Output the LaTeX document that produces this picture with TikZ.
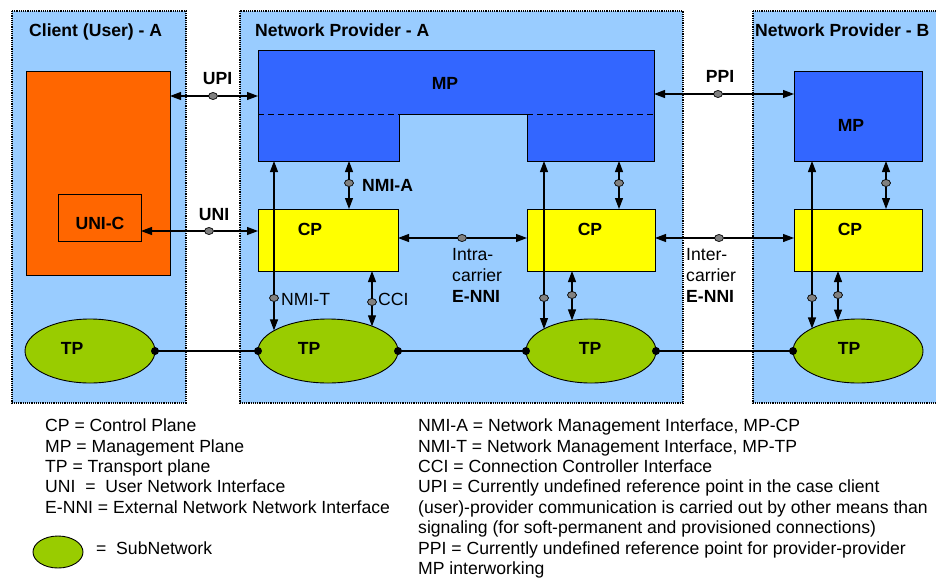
\documentclass[tikz,border=0pt]{standalone}
\usepackage{fontspec}
\setmainfont{Liberation Sans}
\usetikzlibrary{arrows.meta,shapes.geometric}

\definecolor{areablue}{HTML}{99CCFF}
\definecolor{mpblue}{HTML}{3366FF}
\definecolor{clientorange}{HTML}{FF6600}
\definecolor{cpyellow}{HTML}{FFFF00}
\definecolor{tpgreen}{HTML}{99CC00}
\definecolor{dotgray}{HTML}{808080}

\newcommand{\txtsize}{\fontsize{17.6pt}{20.5pt}\selectfont}

\tikzset{
  area/.style={fill=areablue,draw=black,densely dotted,line width=1.2pt},
  box/.style={draw=black,line width=0.9pt,anchor=north west,inner sep=0pt,outer sep=0pt},
  mppart/.style={fill=mpblue,anchor=north west,inner sep=0pt,outer sep=0pt},
  tpshape/.style={ellipse,fill=tpgreen,draw=black,line width=0.9pt,inner sep=0pt,outer sep=0pt},
  ifdot/.style={ellipse,fill=dotgray,draw=black,line width=0.7pt,minimum width=9pt,minimum height=7pt,inner sep=0pt,outer sep=0pt},
  halflink/.style={line width=1.1pt,-{Triangle[length=11pt,width=8pt]}},
  boldlab/.style={font=\txtsize\bfseries,anchor=base,inner sep=0pt},
  title/.style={font=\txtsize\bfseries,anchor=base west,inner sep=0pt},
  plainlab/.style={font=\txtsize,anchor=base west,inner sep=0pt},
  boldwest/.style={font=\txtsize\bfseries,anchor=base west,inner sep=0pt},
}

\begin{document}
\begin{tikzpicture}[x=1pt,y=-1pt]
\useasboundingbox (0,0) rectangle (936,579);

% domains
\draw[area] (12,11) rectangle (186,403);
\draw[area] (240,11) rectangle (683,403);
\draw[area] (753,11) rectangle (940,403);
\node[title] (tClient) at (29,36) {Client (User) - A};
\node[title] (tProvA) at (255,36) {Network Provider - A};
\node[title] (tProvB) at (755,36) {Network Provider - B};

% client
\node[box,fill=clientorange,minimum width=144pt,minimum height=204pt] (client) at (26,71) {};
\node[box,fill=clientorange,minimum width=83pt,minimum height=47pt] (unic) at (58,194) {};
\node[boldlab] (unicTxt) at (100,229.3) {UNI-C};

% management planes
\node[mppart,minimum width=396pt,minimum height=64pt] (mpA) at (258,50) {};
\node[mppart,minimum width=141pt,minimum height=47pt] (mpAl) at (258,114) {};
\node[mppart,minimum width=127pt,minimum height=47pt] (mpAr) at (527,114) {};
\draw[line width=0.9pt] (mpA.north west) -- (mpA.north east) -- (mpAr.south east)
  -- (mpAr.south west) -- (mpAr.north west) -- (mpAl.north east)
  -- (mpAl.south east) -- (mpAl.south west) -- cycle;
\draw[line width=0.9pt,dash pattern=on 6pt off 4pt] (mpAl.north west) -- (mpAl.north east);
\draw[line width=0.9pt,dash pattern=on 6pt off 4pt] (mpAr.north west) -- (mpAr.north east);
\node[boldlab] (mpAtxt) at (445,89.3) {MP};
\node[box,fill=mpblue,minimum width=128pt,minimum height=90pt] (mpB) at (794,71) {};
\node[boldlab] (mpBtxt) at (851,131.7) {MP};

% control planes
\node[box,fill=cpyellow,minimum width=140pt,minimum height=62pt] (cpA) at (258,209) {};
\node[box,fill=cpyellow,minimum width=128pt,minimum height=62pt] (cpM) at (527,209) {};
\node[box,fill=cpyellow,minimum width=128pt,minimum height=62pt] (cpB) at (794,209) {};
\node[boldlab] (cpAtxt) at (310,235) {CP};
\node[boldlab] (cpMtxt) at (590,235) {CP};
\node[boldlab] (cpBtxt) at (850,235) {CP};

% transport planes
\node[tpshape,minimum width=130pt,minimum height=64pt] (tpC) at (90,351) {};
\node[tpshape,minimum width=140pt,minimum height=64pt] (tpA) at (328,351) {};
\node[tpshape,minimum width=130pt,minimum height=64pt] (tpM) at (591,351) {};
\node[tpshape,minimum width=130pt,minimum height=64pt] (tpB) at (858,351) {};
\node[boldlab] (tpCtxt) at (72,354) {TP};
\node[boldlab] (tpAtxt) at (309,354) {TP};
\node[boldlab] (tpMtxt) at (590,354) {TP};
\node[boldlab] (tpBtxt) at (849,354) {TP};
\draw[line width=1.1pt] (tpC.east) -- (tpA.west);
\draw[line width=1.1pt] (tpA.east) -- (tpM.west);
\draw[line width=1.1pt] (tpM.east) -- (tpB.west);
\fill (tpC.east) circle (4);
\fill (tpA.west) circle (4);
\fill (tpA.east) circle (4);
\fill (tpM.west) circle (4);
\fill (tpM.east) circle (4);
\fill (tpB.west) circle (4);

% reference points
\node[ifdot] (dUPI) at (213,96) {};
\node[ifdot] (dUNI) at (209,231) {};
\node[ifdot] (dPPI) at (718,94) {};
\node[ifdot] (dNMIA) at (349,183) {};
\node[ifdot] (dNMIT) at (274,298) {};
\node[ifdot] (dCCI) at (372,302) {};
\node[ifdot] (dIntra) at (462,238) {};
\node[ifdot] (dInter) at (719,238) {};
\node[ifdot] (dMA) at (619,183) {};
\node[ifdot] (dMT) at (544,298) {};
\node[ifdot] (dMC) at (572,295) {};
\node[ifdot] (dBA) at (886,183) {};
\node[ifdot] (dBT) at (812,298) {};
\node[ifdot] (dBC) at (838,295) {};

\draw[halflink] (dUPI) -- (client.east |- dUPI);
\draw[halflink] (dUPI) -- (mpA.west |- dUPI);
\draw[halflink] (dUNI) -- (unic.east |- dUNI);
\draw[halflink] (dUNI) -- (cpA.west |- dUNI);
\draw[halflink] (dPPI) -- (mpA.east |- dPPI);
\draw[halflink] (dPPI) -- (mpB.west |- dPPI);
\draw[halflink] (dNMIA) -- (dNMIA |- mpAl.south);
\draw[halflink] (dNMIA) -- (dNMIA |- cpA.north);
\draw[halflink] (dNMIT) -- (dNMIT |- mpAl.south);
\draw[halflink] (dNMIT) -- (dNMIT |- tpA.159);
\draw[halflink] (dCCI) -- (dCCI |- cpA.south);
\draw[halflink] (dCCI) -- (dCCI |- tpA.29);
\draw[halflink] (dIntra) -- (cpA.east |- dIntra);
\draw[halflink] (dIntra) -- (cpM.west |- dIntra);
\draw[halflink] (dInter) -- (cpM.east |- dInter);
\draw[halflink] (dInter) -- (cpB.west |- dInter);
\draw[halflink] (dMA) -- (dMA |- mpAr.south);
\draw[halflink] (dMA) -- (dMA |- cpM.north);
\draw[halflink] (dMT) -- (dMT |- mpAr.south);
\draw[halflink] (dMT) -- (dMT |- tpM.155);
\draw[halflink] (dMC) -- (dMC |- cpM.south);
\draw[halflink] (dMC) -- (dMC |- tpM.122);
\draw[halflink] (dBA) -- (dBA |- mpB.south);
\draw[halflink] (dBA) -- (dBA |- cpB.north);
\draw[halflink] (dBT) -- (dBT |- mpB.south);
\draw[halflink] (dBT) -- (dBT |- tpB.154);
\draw[halflink] (dBC) -- (dBC |- cpB.south);
\draw[halflink] (dBC) -- (dBC |- tpB.123);

\node[boldlab] (upiTxt) at (217.5,84) {UPI};
\node[boldlab] (uniTxt) at (214,220.7) {UNI};
\node[boldlab] (ppiTxt) at (720,82.3) {PPI};
\node[boldwest] (nmiaTxt) at (362,191.7) {NMI-A};
\node[plainlab] (nmitTxt) at (281,305.7) {NMI-T};
\node[plainlab] (cciTxt) at (378,305.7) {CCI};
\node[plainlab] (intraTxt) at (452,260.5) {Intra-};
\node[plainlab] (intraTxtB) at (452,281.5) {carrier};
\node[boldwest] (intraTxtC) at (452,302.5) {E-NNI};
\node[plainlab] (interTxt) at (686,260.5) {Inter-};
\node[plainlab] (interTxtB) at (686,281.5) {carrier};
\node[boldwest] (interTxtC) at (686,302.5) {E-NNI};

% legend
\node[plainlab] (lgCP) at (45,431.7) {CP = Control Plane};
\node[plainlab] (lgMP) at (45,452.1) {MP = Management Plane};
\node[plainlab] (lgTP) at (45,472.5) {TP = Transport plane};
\node[plainlab] (lgUNI) at (45,492.9) {UNI\ \ =\ \ User Network Interface};
\node[plainlab] (lgENNI) at (45,513.3) {E-NNI = External Network Network Interface};
\node[tpshape,minimum width=50pt,minimum height=32pt] (lgSub) at (58,552) {};
\node[plainlab] (lgSubTxt) at (96,554) {=\ \ SubNetwork};
\node[plainlab] (lgNMIA) at (418,431.7) {NMI-A = Network Management Interface, MP-CP};
\node[plainlab] (lgNMIT) at (418,452.1) {NMI-T = Network Management Interface, MP-TP};
\node[plainlab] (lgCCI) at (418,472.5) {CCI = Connection Controller Interface};
\node[plainlab] (lgUPI) at (418,492.9) {UPI = Currently undefined reference point in the case client};
\node[plainlab] (lgUPIb) at (418,513.3) {(user)-provider communication is carried out by other means than};
\node[plainlab] (lgUPIc) at (418,533.7) {signaling (for soft-permanent and provisioned connections)};
\node[plainlab] (lgPPI) at (418,554.1) {PPI = Currently undefined reference point for provider-provider};
\node[plainlab] (lgPPIb) at (418,574.5) {MP interworking};
\end{tikzpicture}
\end{document}
